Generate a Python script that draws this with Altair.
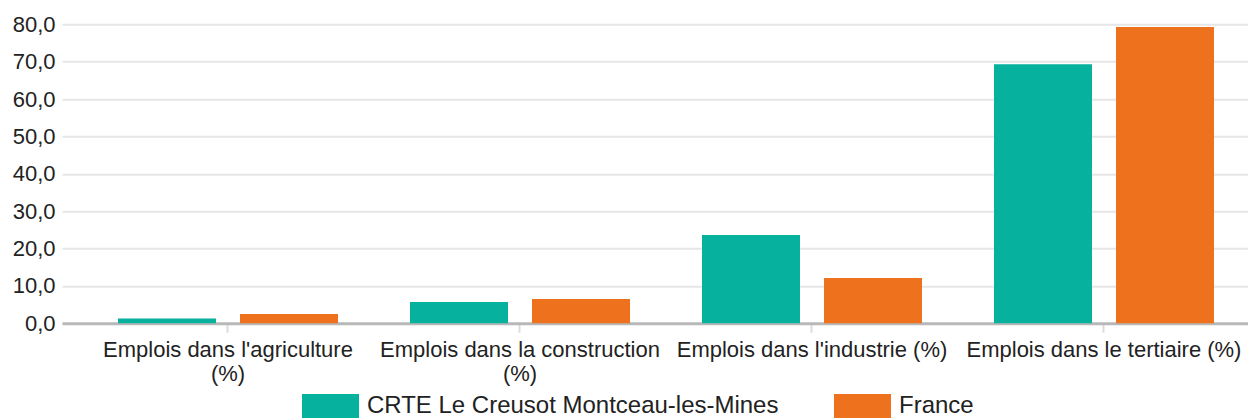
import altair as alt
import pandas as pd

categories = [
    "Emplois dans l'agriculture (%)",
    "Emplois dans la construction (%)",
    "Emplois dans l'industrie (%)",
    "Emplois dans le tertiaire (%)",
]
series_names = ["CRTE Le Creusot Montceau-les-Mines", "France"]
crte_values = [1.3, 5.7, 23.6, 69.3]
france_values = [2.5, 6.5, 12.1, 79.3]
colors = ["#06b19e", "#ee711e"]
y_ticks = [0, 10, 20, 30, 40, 50, 60, 70, 80]

rows = []
for c, v in zip(categories, crte_values):
    rows.append({"categorie": c, "serie": series_names[0], "valeur": v})
for c, v in zip(categories, france_values):
    rows.append({"categorie": c, "serie": series_names[1], "valeur": v})
df = pd.DataFrame(rows)

FONT = "Liberation Sans"
TXT = "#222222"

x_axis = alt.Axis(
    title=None,
    labelAngle=0,
    labelFont=FONT,
    labelFontSize=22,
    labelColor=TXT,
    labelLineHeight=24.5,
    labelPadding=7,
    labelLimit=1000,
    labelOverlap=False,
    labelBound=False,
    labelExpr="test(/agriculture|construction/, datum.value) ? [replace(datum.value, ' (%)', ''), '(%)'] : datum.value",
    domainColor="#b8b8b8",
    domainWidth=3,
    tickColor="#dcdcdc",
    tickWidth=2,
    tickSize=9,
    grid=False,
)

y_axis = alt.Axis(
    title=None,
    values=y_ticks,
    labelExpr="replace(format(datum.value, '.1f'), '.', ',')",
    labelFont=FONT,
    labelFontSize=22,
    labelColor=TXT,
    labelPadding=7,
    ticks=False,
    domain=False,
    grid=True,
    gridColor="#e6e6e6",
    gridWidth=2,
)

legend = alt.Legend(
    title=None,
    orient="none",
    direction="horizontal",
    legendX=240,
    legendY=353,
    padding=0,
    symbolType="M-1,-0.42H1V0.42H-1Z",
    symbolSize=3249,
    symbolStrokeWidth=0,
    symbolOpacity=1,
    labelFont=FONT,
    labelFontSize=24,
    labelColor=TXT,
    labelOffset=8,
    labelLimit=1000,
    columnPadding=55,
)

chart = (
    alt.Chart(df)
    .mark_bar()
    .encode(
        x=alt.X(
            "categorie:N",
            sort=categories,
            axis=x_axis,
            scale=alt.Scale(paddingInner=72 / 292, paddingOuter=0.15411, align=0.6222),
        ),
        xOffset=alt.XOffset(
            "serie:N",
            sort=series_names,
            scale=alt.Scale(paddingInner=24 / 122, paddingOuter=0),
        ),
        y=alt.Y("valeur:Q", axis=y_axis, scale=alt.Scale(domain=[0, 80], nice=False)),
        color=alt.Color(
            "serie:N",
            sort=series_names,
            scale=alt.Scale(domain=series_names, range=colors),
            legend=legend,
        ),
    )
    .properties(
        width=1186,
        height=299,
        autosize="none",
        padding={"left": 54, "top": 16.3, "right": 0, "bottom": 100},
    )
    .configure_view(stroke=None)
)

chart.save("out.html", embed_options={"renderer": "svg", "actions": False})
